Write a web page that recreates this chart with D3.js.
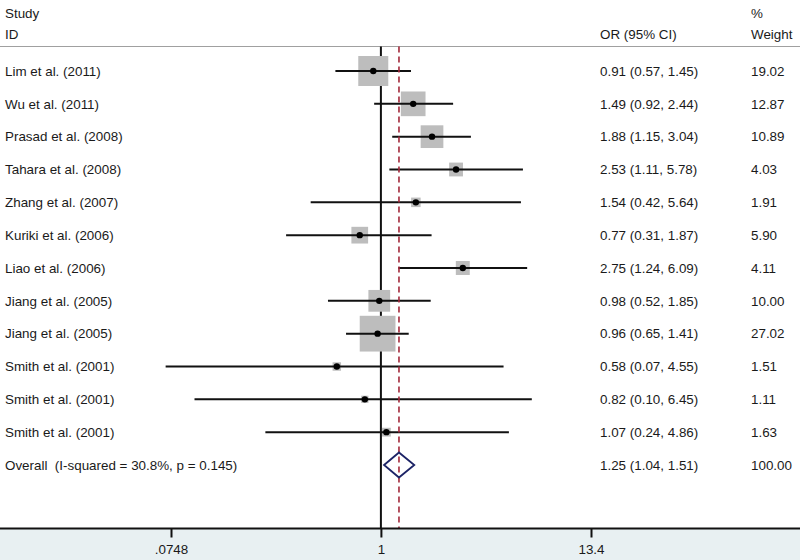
<!DOCTYPE html>
<html>
<head>
<meta charset="utf-8">
<script src="https://cdn.jsdelivr.net/npm/d3@7"></script>
<style>
  html, body { margin: 0; padding: 0; background: #fff; }
  svg { display: block; }
  text { font-family: "Liberation Sans", Arial, sans-serif; font-size: 13.4px; fill: #1a1a1a; white-space: pre; }
</style>
</head>
<body>
<svg id="chart" width="800" height="560"></svg>
<script>
// ---- Data ----
const studies = ["Lim et al. (2011)", "Wu et al. (2011)", "Prasad et al. (2008)", "Tahara et al. (2008)",
  "Zhang et al. (2007)", "Kuriki et al. (2006)", "Liao et al. (2006)", "Jiang et al. (2005)",
  "Jiang et al. (2005)", "Smith et al. (2001)", "Smith et al. (2001)", "Smith et al. (2001)"];
const oddsRatios = [0.91, 1.49, 1.88, 2.53, 1.54, 0.77, 2.75, 0.98, 0.96, 0.58, 0.82, 1.07];
const lowerCI   = [0.57, 0.92, 1.15, 1.11, 0.42, 0.31, 1.24, 0.52, 0.65, 0.07, 0.10, 0.24];
const upperCI   = [1.45, 2.44, 3.04, 5.78, 5.64, 1.87, 6.09, 1.85, 1.41, 4.55, 6.45, 4.86];
const weights   = [19.02, 12.87, 10.89, 4.03, 1.91, 5.90, 4.11, 10.00, 27.02, 1.51, 1.11, 1.63];
const overallLabel = "Overall  (I-squared = 30.8%, p = 0.145)";
const overall = [1.25, 1.04, 1.51];
const overallWeight = 100.00;
const tickValues = [0.0748, 1, 13.4];
const tickLabels = [".0748", "1", "13.4"];

// ---- Layout ----
const svg = d3.select("#chart");
const W = 800, H = 560;
const headerLineY = 46.5, axisY = 528.5;
const x = d3.scaleLog().domain([0.0748, 13.4]).range([171, 591]);
const rows = d3.range(studies.length + 1);
const y = d3.scalePoint().domain(rows).range([71, 465]);
const sizeScale = d3.scaleSqrt().domain([0, 19.02]).range([0, 30]);

// bottom band background
svg.append("rect").attr("x", 0).attr("y", axisY).attr("width", W).attr("height", H - axisY)
  .attr("fill", "#e8f0f2");

// headers
svg.append("text").attr("x", 5).attr("y", 13).attr("dy", "0.35em").text("Study");
svg.append("text").attr("x", 5).attr("y", 34).attr("dy", "0.35em").text("ID");
svg.append("text").attr("x", 600).attr("y", 34).attr("dy", "0.35em").text("OR (95% CI)");
svg.append("text").attr("x", 751).attr("y", 13).attr("dy", "0.35em").text("%");
svg.append("text").attr("x", 751).attr("y", 34).attr("dy", "0.35em").text("Weight");

svg.append("line").attr("x1", 0).attr("x2", W).attr("y1", headerLineY).attr("y2", headerLineY)
  .attr("stroke", "#a0a0a0").attr("stroke-width", 1.2);

// null line at 1
svg.append("line").attr("x1", x(1)).attr("x2", x(1)).attr("y1", headerLineY).attr("y2", axisY)
  .attr("stroke", "#111").attr("stroke-width", 2);

// weight boxes
const g = svg.append("g");
g.selectAll("rect.box").data(studies).join("rect").attr("class", "box")
  .attr("x", (d, i) => x(oddsRatios[i]) - sizeScale(weights[i]) / 2)
  .attr("y", (d, i) => y(i) - sizeScale(weights[i]) / 2)
  .attr("width", (d, i) => sizeScale(weights[i]))
  .attr("height", (d, i) => sizeScale(weights[i]))
  .attr("fill", "#bdbdbd");

// overall dashed line
svg.append("line").attr("x1", x(overall[0])).attr("x2", x(overall[0]))
  .attr("y1", headerLineY).attr("y2", axisY)
  .attr("stroke", "#a3283a").attr("stroke-width", 1.6).attr("stroke-dasharray", "6,4");

// CI lines
g.selectAll("line.ci").data(studies).join("line").attr("class", "ci")
  .attr("x1", (d, i) => x(lowerCI[i])).attr("x2", (d, i) => x(upperCI[i]))
  .attr("y1", (d, i) => y(i)).attr("y2", (d, i) => y(i))
  .attr("stroke", "#111").attr("stroke-width", 2);

// point estimates
g.selectAll("circle.pt").data(studies).join("circle").attr("class", "pt")
  .attr("cx", (d, i) => x(oddsRatios[i])).attr("cy", (d, i) => y(i)).attr("r", 3.2)
  .attr("fill", "#000");

// overall diamond
const oy = y(studies.length);
svg.append("path")
  .attr("d", `M${x(overall[1])},${oy} L${x(overall[0])},${oy - 12.5} L${x(overall[2])},${oy} L${x(overall[0])},${oy + 12.5} Z`)
  .attr("fill", "none").attr("stroke", "#1c2366").attr("stroke-width", 1.8);

// labels
const fmt = v => v.toFixed(2);
svg.selectAll("text.study").data(studies).join("text").attr("class", "study")
  .attr("x", 5).attr("y", (d, i) => y(i)).attr("dy", "0.35em").text(d => d);
svg.selectAll("text.or").data(studies).join("text").attr("class", "or")
  .attr("x", 600).attr("y", (d, i) => y(i)).attr("dy", "0.35em")
  .text((d, i) => `${fmt(oddsRatios[i])} (${fmt(lowerCI[i])}, ${fmt(upperCI[i])})`);
svg.selectAll("text.wt").data(studies).join("text").attr("class", "wt")
  .attr("x", 751).attr("y", (d, i) => y(i)).attr("dy", "0.35em")
  .text((d, i) => fmt(weights[i]));
svg.append("text").attr("x", 5).attr("y", oy).attr("dy", "0.35em").text(overallLabel);
svg.append("text").attr("x", 600).attr("y", oy).attr("dy", "0.35em")
  .text(`${fmt(overall[0])} (${fmt(overall[1])}, ${fmt(overall[2])})`);
svg.append("text").attr("x", 751).attr("y", oy).attr("dy", "0.35em").text(fmt(overallWeight));

// axis
const axis = d3.axisBottom(x).tickValues(tickValues).tickSize(9).tickPadding(7)
  .tickFormat((d, i) => tickLabels[i]);
const ax = svg.append("g").attr("transform", `translate(0,${axisY})`).call(axis);
ax.select(".domain").remove();
ax.selectAll(".tick line").attr("stroke", "#111").attr("stroke-width", 2);
ax.selectAll(".tick text").attr("font-size", 13.4).attr("font-family", "Liberation Sans, Arial, sans-serif").attr("fill", "#1a1a1a");
svg.append("line").attr("x1", 0).attr("x2", W).attr("y1", axisY).attr("y2", axisY)
  .attr("stroke", "#111").attr("stroke-width", 2);
</script>
</body>
</html>
